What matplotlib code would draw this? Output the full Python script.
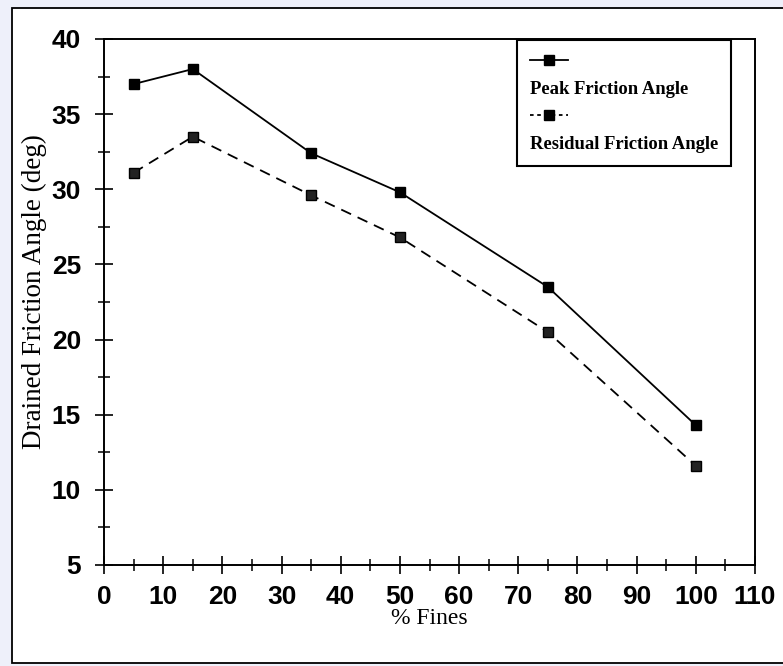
import matplotlib
matplotlib.use('Agg')
import matplotlib.pyplot as plt
from matplotlib.patches import Rectangle
from matplotlib.lines import Line2D
from matplotlib.ticker import MultipleLocator

# data
fines = [5, 15, 35, 50, 75, 100]
peak_angle = [37.0, 38.0, 32.4, 29.8, 23.5, 14.3]
residual_angle = [31.1, 33.5, 29.6, 26.8, 20.5, 11.6]

x_ticks = list(range(0, 111, 10))
y_ticks = list(range(5, 41, 5))

W, H = 783, 666
fig = plt.figure(figsize=(W / 100, H / 100), dpi=100, facecolor='#eef0fa')

# white page with black frame (scan border)
page = Rectangle((12 / W, 3 / H), 800 / W, 655 / H, transform=fig.transFigure,
                 facecolor='white', edgecolor='black', linewidth=1.3, zorder=-10)
fig.patches.append(page)

ax = fig.add_axes([104 / W, 101 / H, 651 / W, 526 / H])
ax.set_facecolor('none')

ax.plot(fines, peak_angle, color='black', linestyle='-', linewidth=1.3,
        marker='s', markersize=7.5, markerfacecolor='black', markeredgecolor='black')
ax.plot(fines, residual_angle, color='black', linestyle=(0, (6, 4)), linewidth=1.3,
        marker='s', markersize=7, markerfacecolor='#222222', markeredgecolor='black')

ax.set_xlim(0, 110)
ax.set_ylim(5, 40)
ax.set_xticks(x_ticks)
ax.set_yticks(y_ticks)
ax.xaxis.set_minor_locator(MultipleLocator(5))
ax.yaxis.set_minor_locator(MultipleLocator(2.5))

ax.tick_params(axis='both', which='major', direction='inout', length=13, width=1.2,
               labelsize=19, pad=8, color='black')
ax.tick_params(axis='both', which='minor', direction='inout', length=8, width=1.1,
               color='black')
ax.tick_params(axis='y', which='major', pad=10)
for lab in ax.get_xticklabels() + ax.get_yticklabels():
    lab.set_family('Liberation Sans')
    lab.set_fontweight('bold')

for sp in ax.spines.values():
    sp.set_linewidth(1.4)
    sp.set_color('black')

ax.set_xlabel('% Fines', family='Liberation Serif', fontsize=17, labelpad=-1)
ax.set_ylabel('Drained Friction Angle (deg)', family='Liberation Serif', fontsize=19.5)
ax.yaxis.set_label_coords(-0.088, 0.52)

# legend: symbol on one row, its label on the row below
peak_handle = Line2D([], [], color='black', linestyle='-', linewidth=1.3,
                     marker='s', markersize=7)
res_handle = Line2D([], [], color='black', linestyle=(0, (2, 2)), linewidth=1.3,
                    marker='s', markersize=6.5)
blank = Line2D([], [], color='none')
leg = ax.legend([peak_handle, blank, res_handle, blank],
                ['', 'Peak Friction Angle', '', 'Residual Friction Angle'],
                loc='upper right', bbox_to_anchor=(0.963, 0.998),
                prop={'family': 'Liberation Serif', 'weight': 'bold', 'size': 13.4},
                handlelength=2.05, handletextpad=-2.05, labelspacing=0.57,
                borderpad=0.7, borderaxespad=0, fancybox=False, framealpha=1,
                edgecolor='black')
leg.get_frame().set_linewidth(1.5)

fig.savefig('out.png', dpi=100, facecolor=fig.get_facecolor())
